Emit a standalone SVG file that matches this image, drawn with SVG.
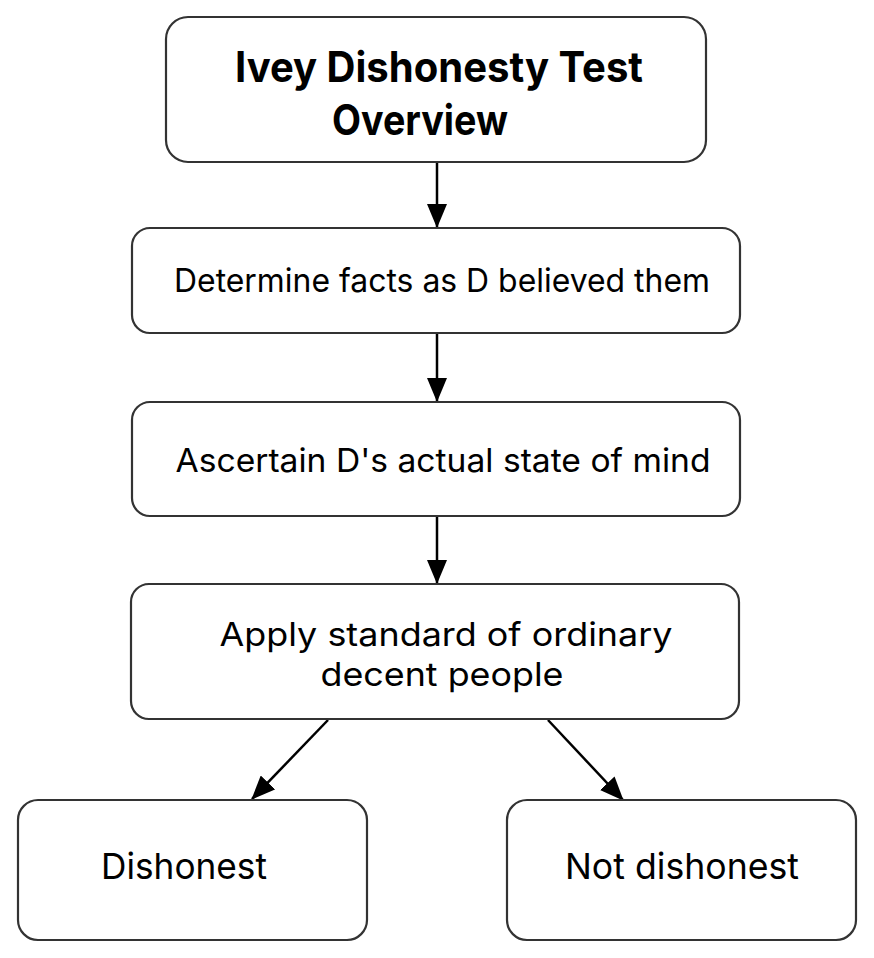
<svg xmlns="http://www.w3.org/2000/svg" width="874" height="958" viewBox="0 0 874 958">
<style>
.box{fill:#fff;stroke:#333;stroke-width:2.2}
.t{font-family:Inter,"Liberation Sans",sans-serif;fill:#000;text-anchor:middle}
.b{font-weight:bold}
.c{stroke:#000;stroke-width:2.5;fill:none}
</style>
<defs>
<marker id="ah" viewBox="0 0 24 20" refX="23" refY="10" markerWidth="24" markerHeight="20" markerUnits="userSpaceOnUse" orient="auto">
<path d="M0,0 L24,10 L0,20 z" fill="#000"/>
</marker>
</defs>
<rect width="874" height="958" fill="#fff"/>
<g id="connectors">
<line class="c" x1="437" y1="163" x2="437" y2="227" marker-end="url(#ah)"/>
<line class="c" x1="437" y1="334" x2="437" y2="401" marker-end="url(#ah)"/>
<line class="c" x1="437" y1="517" x2="437" y2="583" marker-end="url(#ah)"/>
<line class="c" x1="328" y1="720" x2="252" y2="799" marker-end="url(#ah)"/>
<line class="c" x1="548" y1="720" x2="623" y2="800" marker-end="url(#ah)"/>
</g>
<g id="title">
<rect class="box" x="166" y="17" width="540" height="145" rx="22"/>
<text class="t b" x="439" y="82" font-size="42" textLength="408" lengthAdjust="spacingAndGlyphs">Ivey Dishonesty Test</text>
<text class="t b" x="420" y="135" font-size="42" textLength="176" lengthAdjust="spacingAndGlyphs">Overview</text>
</g>
<g id="facts">
<rect class="box" x="132" y="228" width="608" height="105" rx="18"/>
<text class="t" x="442" y="292" font-size="33" textLength="536" lengthAdjust="spacingAndGlyphs">Determine facts as D believed them</text>
</g>
<g id="mind">
<rect class="box" x="132" y="402" width="608" height="114" rx="18"/>
<text class="t" x="443" y="472" font-size="33" textLength="535" lengthAdjust="spacingAndGlyphs">Ascertain D's actual state of mind</text>
</g>
<g id="standard">
<rect class="box" x="131" y="584" width="608" height="135" rx="18"/>
<text class="t" x="446" y="646" font-size="33" textLength="453" lengthAdjust="spacingAndGlyphs">Apply standard of ordinary</text>
<text class="t" x="442" y="686" font-size="33" textLength="243" lengthAdjust="spacingAndGlyphs">decent people</text>
</g>
<g id="dishonest">
<rect class="box" x="18" y="800" width="349" height="140" rx="20"/>
<text class="t" x="184" y="879" font-size="36" textLength="166" lengthAdjust="spacingAndGlyphs">Dishonest</text>
</g>
<g id="notdishonest">
<rect class="box" x="507" y="800" width="349" height="140" rx="20"/>
<text class="t" x="682" y="879" font-size="36" textLength="234" lengthAdjust="spacingAndGlyphs">Not dishonest</text>
</g>
</svg>
